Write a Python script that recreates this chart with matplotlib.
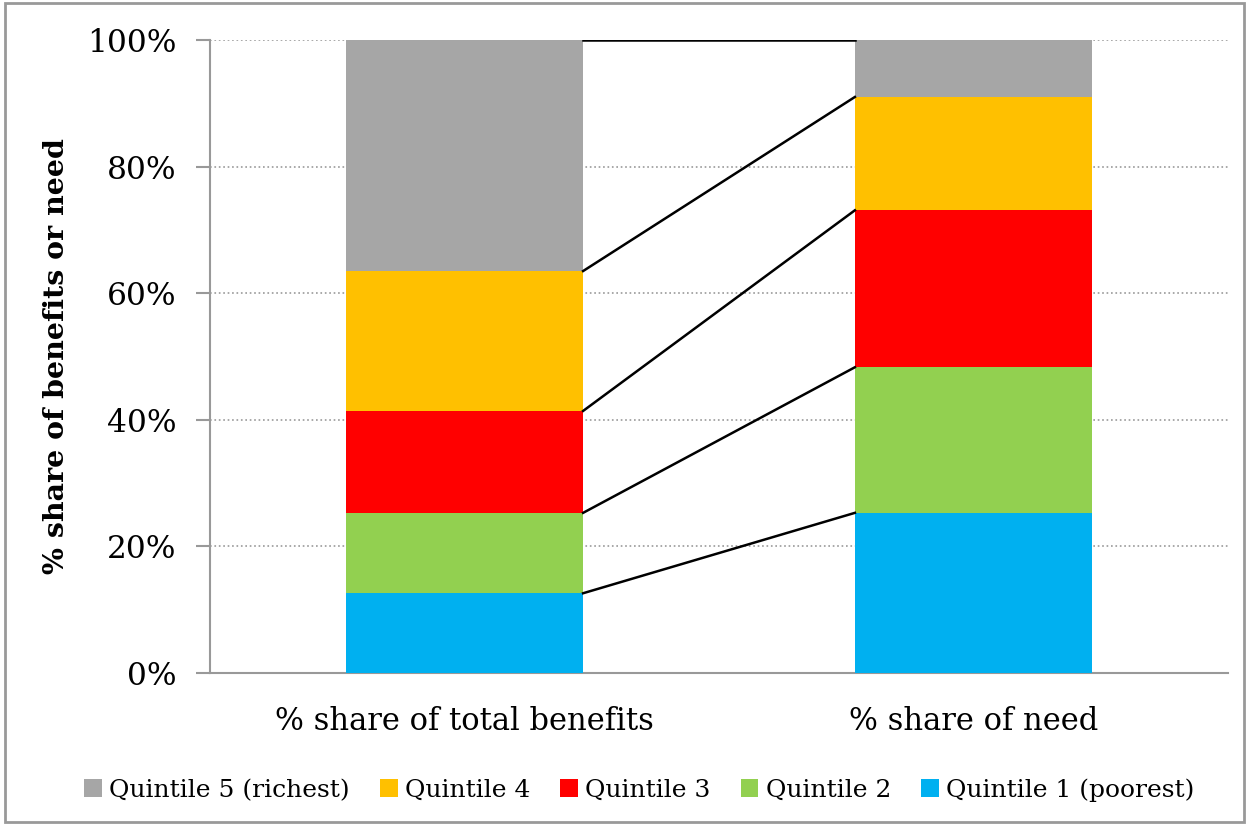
import matplotlib.pyplot as plt
import numpy as np

categorias = ['% share of total benefits', '% share of need']
quintis = ['Quintile 1 (poorest)', 'Quintile 2', 'Quintile 3', 'Quintile 4', 'Quintile 5 (richest)']
cores = ['#00B0F0', '#92D050', '#FF0000', '#FFC000', '#A6A6A6']
beneficios = [12.6, 12.7, 16.1, 22.1, 36.5]
necessidade = [25.3, 23.0, 24.8, 17.9, 9.0]

plt.rcParams['font.family'] = ['DejaVu Serif']

fig = plt.figure(figsize=(12.49, 8.25), dpi=100)
ax = fig.add_axes([210 / 1249, 1 - 673 / 825, 1018 / 1249, 633 / 825])

x = np.arange(len(categorias))
largura = 0.466
valores = np.array([beneficios, necessidade])
base = np.zeros(len(categorias))
barras = []
for i in range(len(quintis)):
    b = ax.bar(x, valores[:, i], largura, bottom=base, color=cores[i], label=quintis[i], zorder=3)
    barras.append(b)
    base = base + valores[:, i]
    # linha de ligacao entre as barras
    ax.plot([x[0] + largura / 2, x[1] - largura / 2], [base[0], base[1]], color='black', lw=1.8, zorder=4)

ax.set_xlim(-0.5, 1.5)
ax.set_ylim(0, 100)
ax.set_yticks(range(0, 101, 20))
ax.set_yticklabels([f'{v}%' for v in range(0, 101, 20)], fontsize=22.5)
ax.set_xticks(x)
ax.set_xticklabels(categorias, fontsize=22)
ax.tick_params(axis='x', length=0, pad=24)
ax.tick_params(axis='y', length=10, color='#999999', pad=14, width=1.5)
ax.yaxis.grid(True, linestyle=':', color='#999999', lw=1.2, zorder=0)
for lado in ['top', 'right']:
    ax.spines[lado].set_visible(False)
for lado in ['left', 'bottom']:
    ax.spines[lado].set_color('#999999')
    ax.spines[lado].set_linewidth(1.5)
ax.set_ylabel('% share of benefits or need', fontsize=20.5, fontweight='bold', labelpad=12)

handles = barras[::-1]
leg = fig.legend(handles, quintis[::-1], loc='center', bbox_to_anchor=(0.512, 1 - 790 / 825), ncol=5,
                 frameon=False, fontsize=18, handlelength=0.7, handleheight=0.7,
                 handletextpad=0.3, columnspacing=1.2)

borda = plt.Rectangle((0.004, 0.004), 0.992, 0.992, transform=fig.transFigure, fill=False,
                      edgecolor='#999999', lw=2)
fig.patches.append(borda)

fig.savefig('out.png', dpi=100)
